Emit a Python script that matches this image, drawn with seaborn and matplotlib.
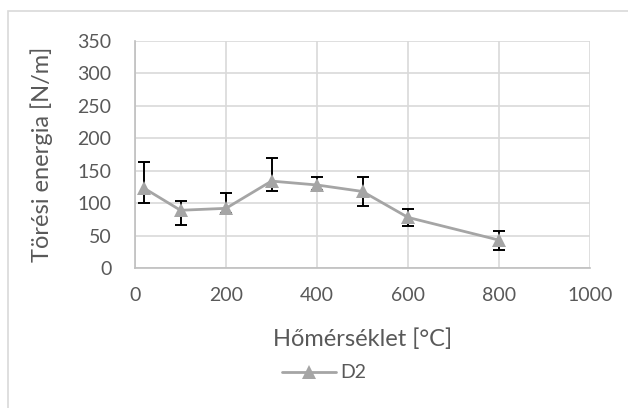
import matplotlib
matplotlib.use("Agg")
import matplotlib.pyplot as plt
import seaborn as sns
import pandas as pd
from matplotlib.patches import Rectangle

# ---------------------------------------------
# DATA
# ---------------------------------------------
temperature = [20, 100, 200, 300, 400, 500, 600, 800]          # °C
energy      = [123, 89, 92, 134, 128, 118, 78, 43]             # N/m
err_upper   = [163, 104, 115, 170, 140, 140, 91, 57]           # top of error bar
err_lower   = [100, 66, 85, 119, 120, 96, 64, 28]              # bottom of error bar
series_name = "D2"

X_LABEL = "Hőmérséklet [°C]"
Y_LABEL = "Törési energia [N/m]"

GREY_LINE = "#A5A5A5"
GRID      = "#D9D9D9"
TEXT      = "#595959"

df = pd.DataFrame({"T": temperature, "E": energy, "series": series_name})

sns.set_theme(style="white")
plt.rcParams["font.family"] = ["Lato", "DejaVu Sans"]

W, H = 628, 408
fig = plt.figure(figsize=(W / 100, H / 100), dpi=100)
ax = fig.add_axes([135 / W, 1 - 268 / H, (590 - 135) / W, (268 - 41) / H])

# error bars (asymmetric) below the line
lower = [e - lo for e, lo in zip(energy, err_lower)]
upper = [hi - e for e, hi in zip(energy, err_upper)]
ax.errorbar(temperature, energy, yerr=[lower, upper], fmt="none",
            ecolor="black", elinewidth=1.4, capsize=4.3, capthick=1.4, zorder=2)

sns.lineplot(data=df, x="T", y="E", hue="series", palette=[GREY_LINE],
             marker="^", markersize=10, markeredgewidth=0, linewidth=2,
             ax=ax, zorder=3)

ax.set_xlim(0, 1000)
ax.set_ylim(0, 350)
ax.set_xticks(range(0, 1001, 200))
ax.set_yticks(range(0, 351, 50))
ax.grid(True, color=GRID, linewidth=1.2)
ax.set_axisbelow(True)

for side in ["top", "right"]:
    ax.spines[side].set_visible(False)
for side in ["left", "bottom"]:
    ax.spines[side].set_color("#BFBFBF")
    ax.spines[side].set_linewidth(1.2)

ax.tick_params(axis="both", length=0, labelsize=14, colors=TEXT)
ax.tick_params(axis="x", pad=14)
ax.tick_params(axis="y", pad=17)

ax.set_xlabel(X_LABEL, fontsize=17, color=TEXT)
ax.set_ylabel(Y_LABEL, fontsize=17, color=TEXT)
ax.xaxis.set_label_coords(363 / W, 1 - 339 / H, transform=fig.transFigure)
ax.yaxis.set_label_coords(42 / W, 1 - 154 / H, transform=fig.transFigure)
ax.xaxis.label.set_va("center")
ax.yaxis.label.set_va("center")

ax.legend(loc="center", bbox_to_anchor=(324 / W, 1 - 373 / H),
          bbox_transform=fig.transFigure, frameon=False, fontsize=14,
          handlelength=2.8, handletextpad=0.2, labelcolor=TEXT)

# chart-area border
fig.patches.append(Rectangle((8 / W, -0.1), 1.2, 1 - 11 / H + 0.1,
                             transform=fig.transFigure, fill=False,
                             edgecolor=GRID, linewidth=1.2))

fig.savefig("out.png", dpi=100)
